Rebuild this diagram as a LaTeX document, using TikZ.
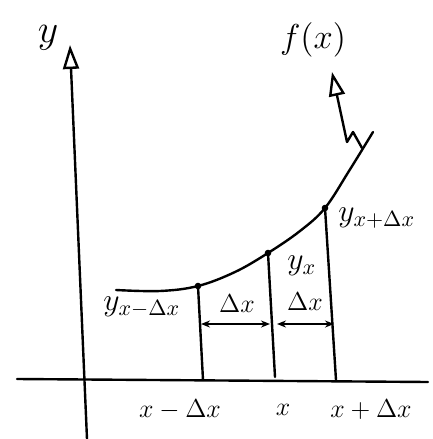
\documentclass[tikz,border=0pt]{standalone}
\usetikzlibrary{arrows.meta}
\begin{document}
\begin{tikzpicture}[x=1pt,y=-1pt,
  ink/.style={line width=2.4pt,line cap=round,line join=round},
  big/.style={inner sep=0pt,font=\Large,scale=2.4},
  sub/.style={inner sep=0pt,font=\Large,scale=2.2},
  lab/.style={inner sep=0pt,font=\Large,scale=1.8},
  dim/.style={line width=1.7pt,{Stealth[length=9pt,width=7pt]}-{Stealth[length=9pt,width=7pt]}},
  opentip/.style={-{Triangle[open,length=24pt,width=16pt,line width=2.4pt]}}]
\useasboundingbox (0,0) rectangle (432,439);
% points
\coordinate (ybot) at (87,439);
\coordinate (ytop) at (70,45);
\coordinate (xl) at (17,379);
\coordinate (xr) at (428,382);
\coordinate (c0) at (116,290);
\coordinate (A) at (198,286);
\coordinate (B) at (268,253);
\coordinate (C) at (325,208);
\coordinate (c9) at (373,132);
\coordinate (A0) at (203,380);
\coordinate (B0) at (275,377);
\coordinate (C0) at (336,380);
\coordinate (z0) at (362,148);
\coordinate (z1) at (353,132);
\coordinate (z2) at (347,142);
\coordinate (ftip) at (332,72);
\coordinate (d1) at (201,324);
\coordinate (d2) at (270,324);
\coordinate (d3) at (277,324);
\coordinate (d4) at (334,324);
% axes
\draw[ink,opentip] (ybot) -- (ytop);
\draw[ink] (xl) -- (xr);
% curve
\draw[ink] plot[smooth,tension=0.6] coordinates {(c0) (160,291) (A) (235,272) (B) (300,231) (C) (349,171) (c9)};
% verticals
\draw[ink] (A) -- (A0);
\draw[ink] (B) -- (B0);
\draw[ink] (C) -- (C0);
\fill (A) circle (3.3pt) (B) circle (3.3pt) (C) circle (3.3pt);
% dimension arrows
\draw[dim] (d1) -- (d2);
\draw[dim] (d3) -- (d4);
% zigzag pointer
\draw[ink,opentip] (z0) -- (z1) -- (z2) -- (ftip);
% labels
\node[big,scale=1.15] (ylab) at (48,38) {$y$};
\node[big] (flab) at (313,40) {$f(x)$};
\node[lab] (dxa) at (237,304) {$\Delta x$};
\node[lab] (dxb) at (305,302) {$\Delta x$};
\node[sub,anchor=west] (yl) at (103,307) {$y_{x-\Delta x}$};
\node[sub,anchor=west] (ym) at (287,266) {$y_{x}$};
\node[sub,anchor=west] (yr) at (338,218) {$y_{x+\Delta x}$};
\node[lab] (tl) at (180,410) {$x-\Delta x$};
\node[lab] (tm) at (283,410) {$x$};
\node[lab] (tr) at (371,410) {$x+\Delta x$};
\end{tikzpicture}
\end{document}
